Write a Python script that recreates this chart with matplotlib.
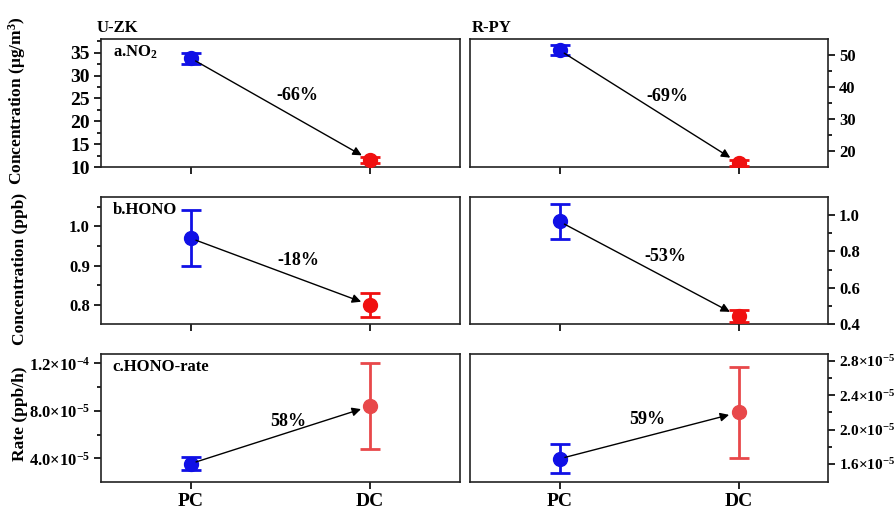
import matplotlib
matplotlib.use("Agg")
import matplotlib.pyplot as plt
from matplotlib.ticker import FixedLocator, FixedFormatter

plt.rcParams['font.family'] = ['Liberation Serif', 'DejaVu Serif']
plt.rcParams['font.weight'] = 'bold'
plt.rcParams['mathtext.fontset'] = 'custom'
plt.rcParams['mathtext.rm'] = 'Liberation Serif:bold'
plt.rcParams['mathtext.it'] = 'Liberation Serif:bold:italic'
plt.rcParams['mathtext.bf'] = 'Liberation Serif:bold'

# data
sites = ['U-ZK', 'R-PY']
conditions = ['PC', 'DC']
x_pos = [1, 2]

no2_uzk = [33.8, 11.5]
no2_uzk_err = [1.2, 0.6]
no2_rpy = [51.5, 16.3]
no2_rpy_err = [1.6, 1.0]

hono_uzk = [0.97, 0.80]
hono_uzk_err = [0.071, 0.03]
hono_rpy = [0.965, 0.442]
hono_rpy_err = [0.095, 0.033]

rate_uzk = [3.55e-5, 8.4e-5]
rate_uzk_err = [0.55e-5, 3.65e-5]
rate_rpy = [1.66e-5, 2.2e-5]
rate_rpy_err = [0.17e-5, 0.53e-5]

changes = [['-66%', '-69%'], ['-18%', '-53%'], ['58%', '59%']]
panel_names = [r'a.NO$_2$', 'b.HONO', 'c.HONO-rate']
ylabels = [r'Concentration (μg/m$^3$)', 'Concentration (ppb)', 'Rate (ppb/h)']

means = [[no2_uzk, no2_rpy], [hono_uzk, hono_rpy], [rate_uzk, rate_rpy]]
errs = [[no2_uzk_err, no2_rpy_err], [hono_uzk_err, hono_rpy_err], [rate_uzk_err, rate_rpy_err]]

ylims = [[(10, 38), (15, 55)], [(0.752, 1.075), (0.4, 1.1)], [(2.0e-5, 1.28e-4), (1.39e-5, 2.88e-5)]]
major_ticks = [[[10, 15, 20, 25, 30, 35], [20, 30, 40, 50]],
               [[0.8, 0.9, 1.0], [0.4, 0.6, 0.8, 1.0]],
               [[4e-5, 8e-5, 1.2e-4], [1.6e-5, 2.0e-5, 2.4e-5, 2.8e-5]]]
major_labels = [[['10', '15', '20', '25', '30', '35'], ['20', '30', '40', '50']],
                [['0.8', '0.9', '1.0'], ['0.4', '0.6', '0.8', '1.0']],
                [[r'$4.0{\times}10^{-5}$', r'$8.0{\times}10^{-5}$', r'$1.2{\times}10^{-4}$'],
                 [r'$1.6{\times}10^{-5}$', r'$2.0{\times}10^{-5}$', r'$2.4{\times}10^{-5}$', r'$2.8{\times}10^{-5}$']]]
minor_ticks = [[[12.5, 17.5, 22.5, 27.5, 32.5, 37.5], [25, 35, 45]],
               [[0.85, 0.95, 1.05], [0.5, 0.7, 0.9]],
               [[6e-5, 1.0e-4], [1.8e-5, 2.2e-5, 2.6e-5]]]
tick_sizes = [[14, 12], [12, 12], [12, 11]]

# text positions (axes fraction)
change_pos = [[(0.546, 0.56), (0.552, 0.55)], [(0.549, 0.50), (0.547, 0.53)], [(0.521, 0.47), (0.494, 0.49)]]
ylabel_y = [0.516, 0.433, 0.53]

blue = '#1010e6'
reds = ['#f01010', '#f01010', '#e8484a']

W, H = 894, 512
fig = plt.figure(figsize=(W / 100, H / 100), dpi=100)

lefts = [101, 470]
widths = [359, 358]
tops = [39, 197, 354]
bottoms = [167, 324, 482]

for r in range(3):
    for c in range(2):
        ax = fig.add_axes([lefts[c] / W, 1 - bottoms[r] / H, widths[c] / W, (bottoms[r] - tops[r]) / H])
        m = means[r][c]
        e = errs[r][c]
        cols = [blue, reds[r]]
        for i in range(2):
            ax.errorbar(x_pos[i], m[i], yerr=e[i], fmt='o', color=cols[i], ms=10,
                        elinewidth=2, capsize=7.2, capthick=2, zorder=3)
        ax.annotate('', xy=(x_pos[1], m[1]), xytext=(x_pos[0], m[0]),
                    arrowprops=dict(arrowstyle='-|>', color='black', lw=1,
                                    shrinkA=4, shrinkB=7, mutation_scale=13), zorder=4)
        ax.text(change_pos[r][c][0], change_pos[r][c][1], changes[r][c], transform=ax.transAxes,
                ha='center', va='center', fontsize=13, fontweight='bold')
        ax.set_xlim(0.5, 2.5)
        ax.set_ylim(*ylims[r][c])
        ax.set_xticks(x_pos)
        if r == 2:
            ax.set_xticklabels(conditions, fontsize=14, fontweight='bold')
        else:
            ax.set_xticklabels([])
        ax.yaxis.set_major_locator(FixedLocator(major_ticks[r][c]))
        ax.yaxis.set_major_formatter(FixedFormatter(major_labels[r][c]))
        ax.yaxis.set_minor_locator(FixedLocator(minor_ticks[r][c]))
        ax.tick_params(axis='y', which='major', direction='out', length=5, width=1.2,
                       labelsize=tick_sizes[r][c], pad=3)
        ax.tick_params(axis='x', which='major', direction='out', length=5, width=1.2, pad=3)
        ax.tick_params(axis='y', which='minor', direction='out', length=3, width=1.2)
        for lab in ax.get_yticklabels() + ax.get_xticklabels():
            lab.set_fontweight('bold')
        if c == 1:
            ax.yaxis.tick_right()
            ax.yaxis.set_ticks_position('right')
        else:
            ax.text(0.033, 0.895, panel_names[r], transform=ax.transAxes, ha='left', va='center',
                    fontsize=12, fontweight='bold')
            ax.set_ylabel(ylabels[r], fontsize=12.5, fontweight='bold')
            ax.yaxis.set_label_coords(-0.203, ylabel_y[r])
        for s in ax.spines.values():
            s.set_linewidth(1.2)
            s.set_color('#222222')

fig.text(97 / W, 1 - 28 / H, sites[0], ha='left', va='center', fontsize=12, fontweight='bold')
fig.text(472 / W, 1 - 28 / H, sites[1], ha='left', va='center', fontsize=12, fontweight='bold')

fig.savefig('out.png', dpi=100)
